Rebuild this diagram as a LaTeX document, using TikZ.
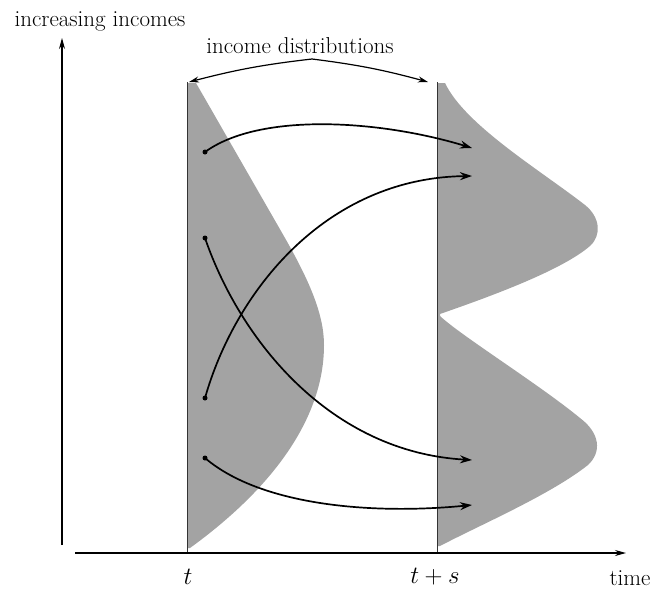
\documentclass[tikz,border=0pt]{standalone}
\usetikzlibrary{arrows.meta}
\begin{document}
\begin{tikzpicture}[x=1pt,y=-1pt,
  lbl/.style={font=\fontsize{23}{27}\selectfont, inner sep=0pt},
  axisline/.style={line width=1.3pt, -{Stealth[length=11pt,width=6pt]}},
  flow/.style={line width=1.7pt, -{Stealth[length=12pt,width=8pt]}},
  pointer/.style={line width=1.2pt, -{Stealth[length=10pt,width=6pt]}},
  dot/.style={circle, fill=black, inner sep=0pt, minimum size=5pt},
  distfill/.style={fill=black!36},
  timeline/.style={line width=0.9pt, black!80}]
\useasboundingbox (0,0) rectangle (656,589);

% distributions
\fill[distfill] (187,83) -- (196,83) -- (285,238)
  .. controls (310,282) and (324,315) .. (324,345)
  .. controls (324,420) and (270,490) .. (190,548)
  -- (187,548) -- cycle;
\fill[distfill] (437,83) -- (445,83)
  .. controls (465,125) and (540,170) .. (585,205)
  .. controls (600,217) and (602,235) .. (590,246)
  .. controls (560,272) and (480,300) .. (440,314)
  -- (440,316)
  .. controls (460,335) and (540,385) .. (580,418)
  .. controls (600,433) and (602,452) .. (588,465)
  .. controls (550,495) and (480,525) .. (440,546)
  -- (437,546) -- cycle;

% time lines
\coordinate (ltop) at (187,82);
\coordinate (lbot) at (187,553);
\coordinate (rtop) at (437,82);
\coordinate (rbot) at (437,553);
\draw[timeline] (ltop) -- (lbot);
\draw[timeline] (rtop) -- (rbot);

% axes
\coordinate (yo) at (62,545);
\coordinate (yt) at (62,38);
\coordinate (xo) at (75,553);
\coordinate (xt) at (626,553);
\draw[axisline] (yo) -- (yt);
\draw[axisline] (xo) -- (xt);

% labels
\node[lbl] (yl) at (100,21) {increasing incomes};
\node[lbl] (dl) at (300,46) {income distributions};
\node[lbl] (t1) at (188,577) {$t$};
\node[lbl] (t2) at (435,577) {$t+s$};
\node[lbl] (tl) at (630,578) {time};

% pointer arrows
\coordinate (apex) at (312,59);
\coordinate (pl) at (189,82);
\coordinate (pr) at (428,82);
\draw[pointer] (apex) to[bend right=4] (pl);
\draw[pointer] (apex) to[bend left=4] (pr);

% flows
\node[dot] (a1) at (205,152) {};
\node[dot] (a2) at (205,238) {};
\node[dot] (a3) at (205,398) {};
\node[dot] (a4) at (205,458) {};
\coordinate (b1) at (472,148);
\coordinate (b2) at (472,176);
\coordinate (b3) at (472,460);
\coordinate (b4) at (472,505);
\draw[flow] (a1.center) .. controls (260,112) and (380,120) .. (b1);
\draw[flow] (a3.center) .. controls (235,292) and (325,178) .. (b2);
\draw[flow] (a2.center) .. controls (240,340) and (330,452) .. (b3);
\draw[flow] (a4.center) .. controls (260,505) and (370,515) .. (b4);
\end{tikzpicture}
\end{document}
